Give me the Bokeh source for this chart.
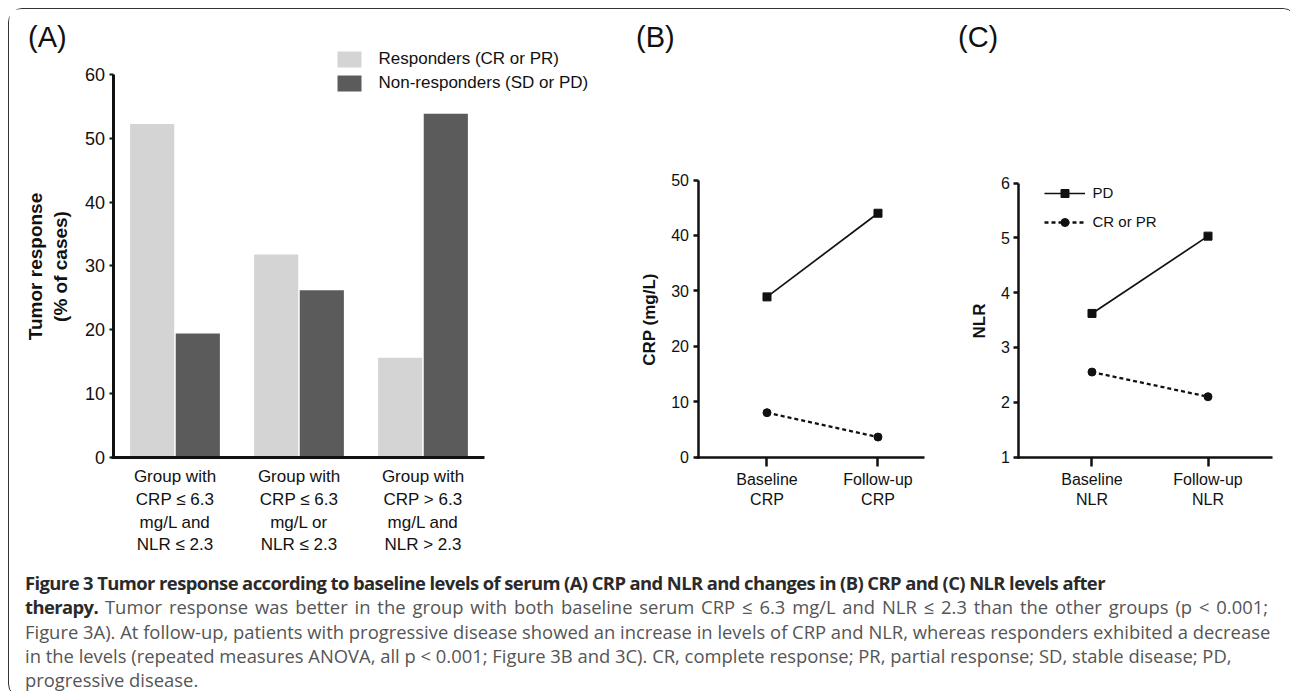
from bokeh.plotting import figure
from bokeh.layouts import row, column
from bokeh.models import (Range1d, Legend, LegendItem, Label, Div, ColumnDataSource)
from bokeh.transform import dodge
from bokeh.embed import file_html
from bokeh.resources import INLINE

# ---------------- data ----------------
groups = ["Group with\nCRP \u2264 6.3\nmg/L and\nNLR \u2264 2.3",
          "Group with\nCRP \u2264 6.3\nmg/L or\nNLR \u2264 2.3",
          "Group with\nCRP > 6.3\nmg/L and\nNLR > 2.3"]
responders = [52.3, 31.8, 15.6]
non_responders = [19.4, 26.2, 53.9]
a_ticks = [0, 10, 20, 30, 40, 50, 60]

timepoints = ["Baseline", "Follow-up"]
crp_pd = [28.9, 44.0]
crp_cr = [8.0, 3.6]
crp_ticks = [0, 10, 20, 30, 40, 50]

nlr_pd = [3.62, 5.03]
nlr_cr = [2.55, 2.10]
nlr_ticks = [1, 2, 3, 4, 5, 6]

FONT = "Liberation Sans"
INK = "#111111"
H = 551


def base_fig(w, xr, yr):
    p = figure(width=w, height=H, x_range=Range1d(*xr), y_range=Range1d(*yr),
               output_backend="svg", toolbar_location=None,
               min_border_left=0, min_border_right=0, min_border_top=0,
               min_border_bottom=0)
    p.grid.visible = False
    p.outline_line_color = None
    p.background_fill_color = "white"
    p.border_fill_color = "white"
    for ax in p.axis:
        ax.major_label_text_font = FONT
        ax.axis_label_text_font = FONT
        ax.major_label_text_color = INK
        ax.axis_label_text_color = INK
        ax.axis_line_color = INK
        ax.major_tick_line_color = INK
        ax.minor_tick_line_color = None
        ax.axis_label_text_font_style = "bold"
    return p


def panel_label(p, x, text):
    p.add_layout(Label(x=x, y=H - 27.5, x_units="screen", y_units="screen", text=text,
                       text_font_size="29px", text_font=FONT, text_color=INK,
                       text_baseline="alphabetic"))


# ---------------- panel A ----------------
gx = list(range(1, len(groups) + 1))
srcA = ColumnDataSource(dict(g=gx, resp=responders, nonresp=non_responders))
pA = base_fig(591, (-0.3347, 4.4315), (-(H - 447.5) / 6.3667, 447.5 / 6.3667))
rA1 = pA.vbar(x=dodge("g", -0.184), top="resp", width=0.356, source=srcA,
              fill_color="#d4d4d4", line_color=None)
rA2 = pA.vbar(x=dodge("g", 0.184), top="nonresp", width=0.356, source=srcA,
              fill_color="#5b5b5b", line_color=None)
pA.yaxis.fixed_location = 0.5
pA.yaxis.bounds = (-0.24, 60)
pA.yaxis.ticker = a_ticks
pA.yaxis.axis_label = "Tumor response\n(% of cases)"
pA.yaxis.axis_label_text_font_size = "19px"
pA.yaxis.axis_label_standoff = 11
pA.yaxis.major_label_text_font_size = "18px"
pA.yaxis.major_tick_out = 4
pA.yaxis.major_tick_in = 0
pA.yaxis.major_label_standoff = 4
pA.xaxis.fixed_location = 0
pA.xaxis.bounds = (0.488, 3.5)
pA.xaxis.ticker = gx
pA.xaxis.major_label_overrides = {x: g for x, g in zip(gx, groups)}
pA.xaxis.major_tick_line_color = None
pA.xaxis.major_tick_out = 0
pA.xaxis.major_tick_in = 0
pA.xaxis.major_label_text_font_size = "17px"
pA.xaxis.major_label_standoff = 10
pA.axis.axis_line_width = 3
pA.axis.major_tick_line_width = 2

legA = Legend(items=[LegendItem(label="Responders (CR or PR)", renderers=[rA1]),
                     LegendItem(label="Non-responders (SD or PD)", renderers=[rA2])],
              location=(324.5, 467.5), glyph_width=30, glyph_height=20, label_height=20,
              spacing=4, label_standoff=15, padding=0, margin=0,
              border_line_color=None, background_fill_alpha=0,
              label_text_font_size="17px", label_text_font=FONT,
              label_text_color=INK)
pA.add_layout(legA)
panel_label(pA, 18.5, "(A)")

# ---------------- panel B ----------------
tx = list(range(1, len(timepoints) + 1))
srcB = ColumnDataSource(dict(t=tx, pd=crp_pd, cr=crp_cr))
pB = base_fig(330, (-0.5, 2.473), (-(H - 447.5) / 5.54, 447.5 / 5.54))
pB.line(x="t", y="pd", source=srcB, line_color=INK, line_width=1.7)
pB.scatter(x="t", y="pd", source=srcB, marker="square", size=8, color=INK)
pB.line(x="t", y="cr", source=srcB, line_color=INK, line_width=2.3, line_dash="4 3")
pB.scatter(x="t", y="cr", source=srcB, marker="circle", size=8, color=INK)
pB.yaxis.fixed_location = 0.3784
pB.yaxis.bounds = (-0.27, 50)
pB.yaxis.ticker = crp_ticks
pB.yaxis.axis_label = "CRP (mg/L)"
pB.yaxis.axis_label_text_font_size = "17px"
pB.yaxis.axis_label_standoff = 10
pB.yaxis.major_tick_out = 5
pB.yaxis.major_tick_in = 0
pB.yaxis.major_label_standoff = 4
pB.xaxis.fixed_location = 0
pB.xaxis.bounds = (0.3671, 2.4234)
pB.xaxis.ticker = tx
pB.xaxis.major_label_overrides = {x: f"{t}\nCRP" for x, t in zip(tx, timepoints)}
pB.xaxis.major_tick_out = 9
pB.xaxis.major_tick_in = 0
pB.xaxis.major_label_standoff = 5
pB.axis.major_label_text_font_size = "16px"
pB.axis.axis_line_width = 2.5
pB.axis.major_tick_line_width = 2.5
panel_label(pB, 35.5, "(B)")

# ---------------- panel C ----------------
srcC = ColumnDataSource(dict(t=tx, pd=nlr_pd, cr=nlr_cr))
pC = base_fig(356, (-0.3922, 2.6767), (1 - (H - 447.5) / 54.8, 1 + 447.5 / 54.8))
lC1 = pC.line(x="t", y="pd", source=srcC, line_color=INK, line_width=1.7)
sC1 = pC.scatter(x="t", y="pd", source=srcC, marker="square", size=8, color=INK)
lC2 = pC.line(x="t", y="cr", source=srcC, line_color=INK, line_width=2.3, line_dash="4 3")
sC2 = pC.scatter(x="t", y="cr", source=srcC, marker="circle", size=8, color=INK)
pC.yaxis.fixed_location = 0.3707
pC.yaxis.bounds = (0.977, 6)
pC.yaxis.ticker = nlr_ticks
pC.yaxis.axis_label = "NLR"
pC.yaxis.axis_label_text_font_size = "17px"
pC.yaxis.axis_label_standoff = 9
pC.yaxis.major_tick_out = 5
pC.yaxis.major_tick_in = 0
pC.yaxis.major_label_standoff = 4
pC.xaxis.fixed_location = 1
pC.xaxis.bounds = (0.3599, 2.5603)
pC.xaxis.ticker = tx
pC.xaxis.major_label_overrides = {x: f"{t}\nNLR" for x, t in zip(tx, timepoints)}
pC.xaxis.major_tick_out = 9
pC.xaxis.major_tick_in = 0
pC.xaxis.major_label_standoff = 5
pC.axis.major_label_text_font_size = "16px"
pC.axis.axis_line_width = 2.5
pC.axis.major_tick_line_width = 2.5
legC = Legend(items=[LegendItem(label="PD", renderers=[lC1, sC1]),
                     LegendItem(label="CR or PR", renderers=[lC2, sC2])],
              location=(113.5, 328.5), glyph_width=41, glyph_height=20, label_height=20,
              spacing=9, label_standoff=8, padding=0, margin=0,
              border_line_color=None, background_fill_alpha=0,
              label_text_font_size="15px", label_text_font=FONT,
              label_text_color=INK)
pC.add_layout(legC)
panel_label(pC, 27.5, "(C)")

# ---------------- caption ----------------
BOLD = "<b style='color:#2a2a2a; letter-spacing:-0.58px;'>"
caption_html = (
    "<div style=\"padding:6px 0 0 11px; font-family:'Open Sans'; font-size:18.4px; "
    "line-height:24.3px; white-space:nowrap; color:#555555;\">"
    + BOLD + "Figure 3 Tumor response according to baseline levels of serum (A) CRP and NLR "
    "and changes in (B) CRP and (C) NLR levels after</b><br>"
    + BOLD + "therapy.</b><span style='word-spacing:2.1px;'> Tumor response was better in the "
    "group with both baseline serum CRP \u2264 6.3 mg/L and NLR \u2264 2.3 than the other "
    "groups (p &lt; 0.001;</span><br>"
    "Figure 3A). At follow-up, patients with progressive disease showed an increase in levels "
    "of CRP and NLR, whereas responders exhibited a decrease<br>"
    "in the levels (repeated measures ANOVA, all p &lt; 0.001; Figure 3B and 3C). CR, complete "
    "response; PR, partial response; SD, stable disease; PD,<br>"
    "progressive disease.</div>"
)
cap = Div(text=caption_html, width=1277, height=127)

page = column(row(pA, pB, pC), cap,
              styles={"border": "1.5px solid #333333", "border-radius": "14px",
                      "margin-left": "8px", "margin-top": "8px",
                      "background-color": "white"})

open("out.html", "w").write(file_html(page, INLINE))
